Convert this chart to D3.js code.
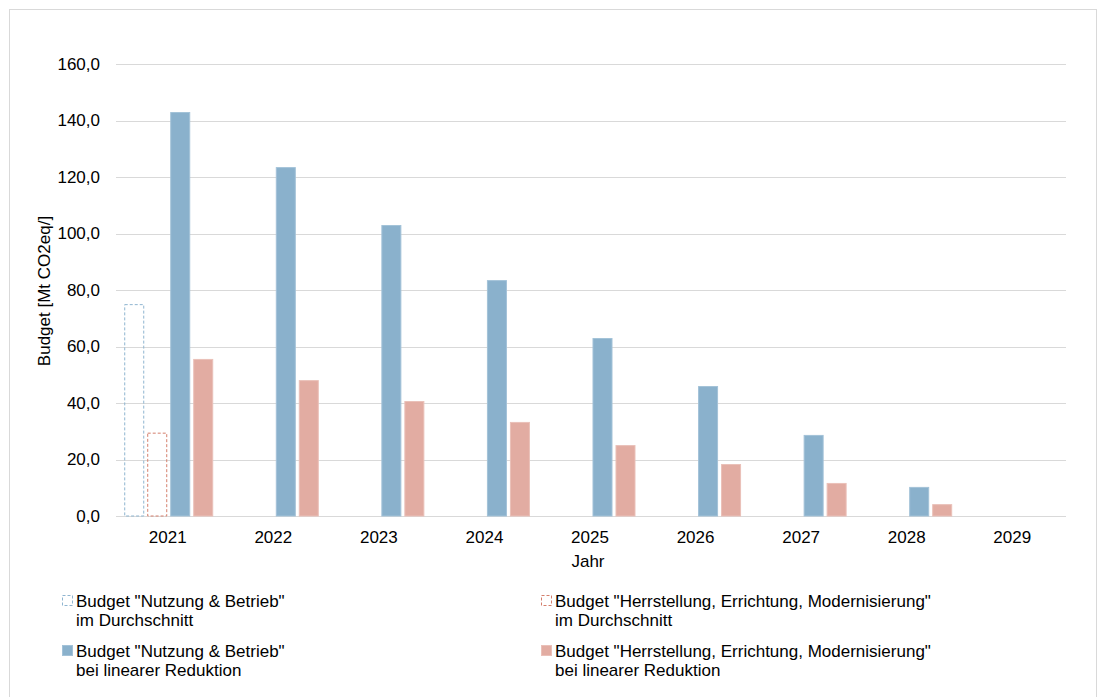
<!DOCTYPE html>
<html>
<head>
<meta charset="utf-8">
<script src="https://cdn.jsdelivr.net/npm/d3@7/dist/d3.min.js"></script>
<style>
  html, body { margin: 0; padding: 0; background: #fff; }
  svg { display: block; font-family: "Liberation Sans", Arial, sans-serif; }
</style>
</head>
<body>
<svg id="chart" width="1098" height="697"></svg>
<script>
// Years on the x axis
const years = ["2021", "2022", "2023", "2024", "2025", "2026", "2027", "2028", "2029"];

// Average budgets (only the first year)
const avgNutzung = [75.0, null, null, null, null, null, null, null, null];
const avgHerstellung = [29.5, null, null, null, null, null, null, null, null];

// Budgets with linear reduction
const linNutzung = [143.0, 123.5, 103.0, 83.5, 63.0, 46.0, 28.7, 10.3, 0];
const linHerstellung = [55.6, 48.1, 40.7, 33.3, 25.1, 18.4, 11.7, 4.2, 0];

const yTicks = [0, 20, 40, 60, 80, 100, 120, 140, 160];

const seriesNames = [
  'Budget "Nutzung & Betrieb"|im Durchschnitt',
  'Budget "Herrstellung, Errichtung, Modernisierung"|im Durchschnitt',
  'Budget "Nutzung & Betrieb"|bei linearer Reduktion',
  'Budget "Herrstellung, Errichtung, Modernisierung"|bei linearer Reduktion'
];

const blue = "#8ab1cc";
const red = "#e2aca2";
const FS = 17;

const series = [
  { key: "avgN", values: avgNutzung, fill: "none", stroke: "#8fb5d0", dash: "3,2" },
  { key: "avgH", values: avgHerstellung, fill: "none", stroke: "#d47f6c", dash: "3,2" },
  { key: "linN", values: linNutzung, fill: blue, stroke: "#a3c2d8", dash: null },
  { key: "linH", values: linHerstellung, fill: red, stroke: "#eac0b8", dash: null }
];

const svg = d3.select("#chart");

// outer frame
svg.append("rect")
  .attr("x", 9.5).attr("y", 9.5)
  .attr("width", 1087).attr("height", 700)
  .attr("fill", "none").attr("stroke", "#d9d9d9");

const plotLeft = 116, plotRight = 1066, plotTop = 64, plotBottom = 516;

const x0 = d3.scaleBand().domain(years).range([plotLeft, plotRight]).paddingInner(0.157).paddingOuter(0.078);
const x1 = d3.scaleBand().domain(series.map(s => s.key)).range([0, x0.bandwidth()]).paddingInner(0.13);
const y = d3.scaleLinear().domain([0, 160]).range([plotBottom, plotTop]);

// gridlines
svg.append("g")
  .selectAll("line")
  .data(yTicks)
  .join("line")
  .attr("x1", plotLeft).attr("x2", plotRight)
  .attr("y1", d => Math.round(y(d)) + 0.5).attr("y2", d => Math.round(y(d)) + 0.5)
  .attr("stroke", "#d9d9d9").attr("stroke-width", 1);

// y axis tick labels
const yAxis = d3.axisLeft(y).tickValues(yTicks).tickSize(0).tickPadding(0)
  .tickFormat(d => d3.format(".1f")(d).replace(".", ","));
svg.append("g")
  .attr("transform", `translate(100,0)`)
  .call(yAxis)
  .call(g => g.select(".domain").remove())
  .selectAll("text")
  .attr("font-size", FS).attr("fill", "#000")
  .attr("font-family", "Liberation Sans, Arial, sans-serif");

// bars
series.forEach(s => {
  const data = years.map((yr, i) => ({ yr, v: s.values[i] })).filter(d => d.v != null && d.v > 0);
  svg.append("g")
    .selectAll("rect")
    .data(data)
    .join("rect")
    .attr("x", d => x0(d.yr) + x1(s.key) + 0.5)
    .attr("y", d => y(d.v) + 0.5)
    .attr("width", x1.bandwidth() - 1)
    .attr("height", d => y(0) - y(d.v) - 0.5)
    .attr("fill", s.fill === "none" ? "none" : s.fill)
    .attr("stroke", s.stroke)
    .attr("stroke-width", 1)
    .attr("stroke-dasharray", s.dash);
});

// x axis labels
const xAxis = d3.axisBottom(x0).tickSize(0).tickPadding(0);
svg.append("g")
  .attr("transform", `translate(-1,${plotBottom + 15})`)
  .call(xAxis)
  .call(g => g.select(".domain").remove())
  .selectAll("text")
  .attr("font-size", FS).attr("fill", "#000")
  .attr("font-family", "Liberation Sans, Arial, sans-serif");

// axis titles
svg.append("text")
  .attr("x", 588).attr("y", 567)
  .attr("text-anchor", "middle")
  .attr("font-size", FS)
  .text("Jahr");

svg.append("text")
  .attr("transform", "translate(50,291) rotate(-90)")
  .attr("text-anchor", "middle")
  .attr("font-size", FS)
  .text("Budget [Mt CO2eq/]");

// legend
const legendPos = [
  { x: 62, y: 601 },
  { x: 541, y: 601 },
  { x: 62, y: 651 },
  { x: 541, y: 651 }
];

series.forEach((s, i) => {
  const p = legendPos[i];
  const g = svg.append("g").attr("transform", `translate(${p.x},${p.y})`);
  g.append("rect")
    .attr("x", 0.5).attr("y", -5.5)
    .attr("width", 10).attr("height", 10)
    .attr("fill", s.fill === "none" ? "#fff" : s.fill)
    .attr("stroke", s.stroke)
    .attr("stroke-dasharray", s.dash ? "3,2" : null);
  const lines = seriesNames[i].split("|");
  const t = g.append("text").attr("x", 14).attr("y", 6).attr("font-size", FS).attr("fill", "#000");
  lines.forEach((ln, j) => {
    t.append("tspan").attr("x", 14).attr("dy", j === 0 ? 0 : 19).text(ln);
  });
});
</script>
</body>
</html>
